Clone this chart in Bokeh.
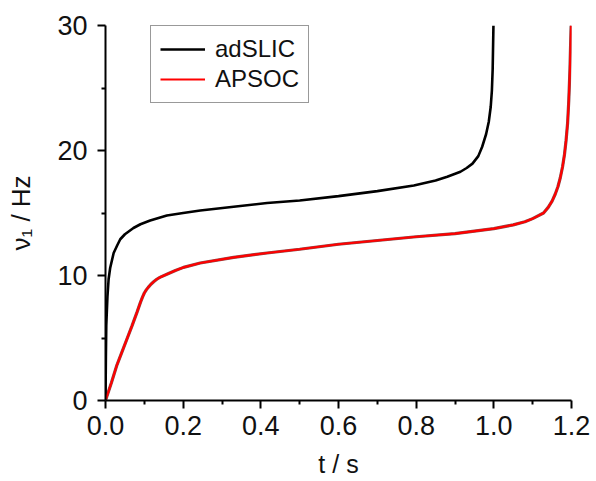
from bokeh.plotting import figure
from bokeh.models import Range1d, FixedTicker, PrintfTickFormatter, Legend, LegendItem
from bokeh.embed import file_html
from bokeh.resources import INLINE

# ---- data ----
adslic_t = [0.0, 0.001, 0.002, 0.005, 0.008, 0.012, 0.021, 0.03, 0.038, 0.05, 0.072, 0.09,
            0.115, 0.158, 0.2, 0.244, 0.33, 0.416, 0.5, 0.6, 0.7, 0.794, 0.85, 0.88, 0.914,
            0.93, 0.945, 0.96, 0.97, 0.98, 0.987, 0.992, 0.995, 0.997, 0.999]
adslic_v = [0.0, 3.5, 6.0, 8.3, 9.7, 10.6, 11.8, 12.4, 12.9, 13.3, 13.8, 14.1,
            14.4, 14.8, 15.0, 15.2, 15.5, 15.8, 16.0, 16.35, 16.75, 17.2, 17.6, 17.9, 18.3,
            18.6, 18.95, 19.55, 20.3, 21.3, 22.3, 23.5, 24.8, 26.5, 30.0]

apsoc_t = [0.0, 0.015, 0.029, 0.042, 0.055, 0.068, 0.081, 0.09, 0.095, 0.1, 0.105, 0.11,
           0.117, 0.124, 0.132, 0.14, 0.158, 0.18, 0.201, 0.244, 0.33, 0.416, 0.5, 0.6,
           0.7, 0.8, 0.9, 1.0, 1.05, 1.08, 1.1, 1.128, 1.14, 1.15, 1.158, 1.165, 1.171,
           1.177, 1.182, 1.186, 1.19, 1.193, 1.196, 1.199]
apsoc_v = [0.0, 1.4, 2.8, 3.85, 4.9, 5.95, 7.05, 7.85, 8.25, 8.6, 8.85, 9.05,
           9.3, 9.5, 9.7, 9.85, 10.1, 10.4, 10.65, 11.0, 11.45, 11.8, 12.1, 12.5,
           12.8, 13.1, 13.35, 13.75, 14.05, 14.3, 14.55, 15.0, 15.45, 15.95, 16.5, 17.1, 17.8,
           18.7, 19.7, 20.8, 22.2, 24.0, 26.5, 30.0]

x_ticks = [0.0, 0.2, 0.4, 0.6, 0.8, 1.0, 1.2]
x_minor = [0.1, 0.3, 0.5, 0.7, 0.9, 1.1]
y_ticks = [0, 10, 20, 30]
y_minor = [5, 15, 25]
series_names = ["adSLIC", "APSOC"]
x_title = "t / s"
y_title = "ν₁ / Hz"

FONT = "Liberation Sans"

p = figure(width=590, height=480, output_backend="svg", toolbar_location=None,
           x_range=Range1d(0, 1.2), y_range=Range1d(0, 30),
           min_border_left=105, min_border_right=19, min_border_top=25, min_border_bottom=78)
p.outline_line_color = None
p.grid.visible = False
p.background_fill_color = "white"
p.border_fill_color = "white"

for ax, ticks, minor in ((p.xaxis[0], x_ticks, x_minor), (p.yaxis[0], y_ticks, y_minor)):
    ax.ticker = FixedTicker(ticks=ticks, minor_ticks=minor)
    ax.axis_line_width = 2
    ax.axis_line_color = "black"
    ax.major_tick_line_width = 2
    ax.minor_tick_line_width = 2
    ax.major_tick_line_color = "black"
    ax.minor_tick_line_color = "black"
    ax.major_tick_in = 0
    ax.major_tick_out = 8
    ax.minor_tick_in = 0
    ax.minor_tick_out = 4
    ax.major_label_text_font = FONT
    ax.major_label_text_font_size = "27px"
    ax.major_label_text_color = "#111111"
    ax.axis_label_text_font = FONT
    ax.axis_label_text_font_style = "normal"
    ax.axis_label_text_color = "#111111"

p.xaxis[0].formatter = PrintfTickFormatter(format="%.1f")
p.yaxis[0].formatter = PrintfTickFormatter(format="%d")
p.xaxis[0].major_label_standoff = 7
p.yaxis[0].major_label_standoff = 10

p.xaxis[0].axis_label = x_title
p.xaxis[0].axis_label_text_font_size = "25px"
p.xaxis[0].axis_label_standoff = 12
p.yaxis[0].axis_label = y_title
p.yaxis[0].axis_label_text_font_size = "26px"
p.yaxis[0].axis_label_standoff = 18

r1 = p.line(adslic_t, adslic_v, line_color="black", line_width=2.6)
p.line(apsoc_t, apsoc_v, line_color="#5a0000", line_width=3.2, line_alpha=0.7)
r2 = p.line(apsoc_t, apsoc_v, line_color="#ff0000", line_width=2.2)

legend = Legend(items=[LegendItem(label=series_names[0], renderers=[r1]),
                       LegendItem(label=series_names[1], renderers=[r2])],
                location=(45, 297), padding=9, margin=0, spacing=2,
                glyph_width=45, glyph_height=26, label_height=26, label_standoff=10,
                label_text_font=FONT, label_text_font_size="24px", label_text_color="#111111",
                border_line_color="#333333", border_line_width=1.5,
                background_fill_color="white", background_fill_alpha=1.0)
p.add_layout(legend, "center")

open("out.html", "w").write(file_html(p, INLINE))
